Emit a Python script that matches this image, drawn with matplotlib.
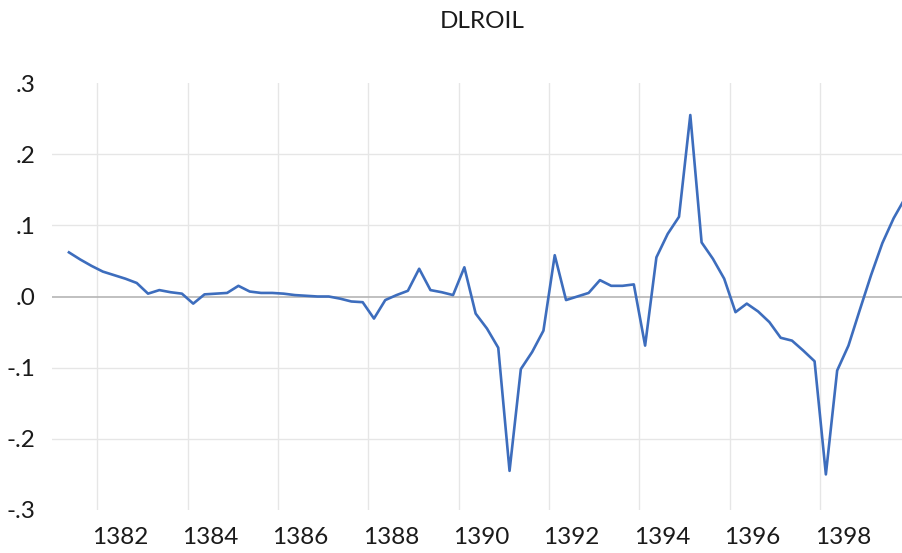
import numpy as np
import matplotlib.pyplot as plt

plt.rcParams['font.family'] = ['Lato', 'DejaVu Sans']

# quarterly series, 1381Q2 .. 1399Q4
start_year, start_q = 1381, 2
dlroil = [
    0.062, 0.052, 0.043, 0.035, 0.030, 0.025, 0.019, 0.004, 0.009, 0.006,
    0.004, -0.010, 0.003, 0.004, 0.005, 0.015, 0.007, 0.005, 0.005, 0.004,
    0.002, 0.001, 0.000, 0.000, -0.003, -0.007, -0.008, -0.031, -0.005, 0.002,
    0.008, 0.039, 0.009, 0.006, 0.002, 0.041, -0.024, -0.045, -0.072, -0.245,
    -0.102, -0.078, -0.048, 0.058, -0.005, 0.000, 0.005, 0.023, 0.015, 0.015,
    0.017, -0.069, 0.055, 0.088, 0.112, 0.255, 0.076, 0.053, 0.025, -0.022,
    -0.010, -0.021, -0.036, -0.058, -0.062, -0.076, -0.091, -0.250, -0.104, -0.069,
    -0.019, 0.030, 0.075, 0.110, 0.138,
]
label_years = list(range(1382, 1399, 2))
y_ticks = [-0.3, -0.2, -0.1, 0.0, 0.1, 0.2, 0.3]
y_labels = ['-.3', '-.2', '-.1', '.0', '.1', '.2', '.3']

# each quarter sits in the middle of its slot
n = len(dlroil)
t = start_year + (start_q - 1 + np.arange(n)) / 4 + 0.125

fig = plt.figure(figsize=(9.02, 5.53), dpi=100)
ax = fig.add_axes([52 / 902, 43 / 553, (910.6 - 52) / 902, 427 / 553])

ax.plot(t, dlroil, color='#3D6DBD', lw=1.9, zorder=3)

ax.set_xlim(1381, 1400)
ax.set_ylim(-0.3, 0.3)

# grid
for yv in [-0.2, -0.1, 0.1, 0.2]:
    ax.axhline(yv, color='#e6e6e6', lw=1.0, zorder=1)
ax.axhline(0, color='#b5b5b5', lw=1.2, zorder=2)
for xv in label_years:
    ax.axvline(xv, color='#e6e6e6', lw=1.0, zorder=1)

ax.set_xticks([y + 0.5 for y in label_years])
ax.set_xticklabels([str(y) for y in label_years])
ax.set_yticks(y_ticks)
ax.set_yticklabels(y_labels)
ax.tick_params(axis='both', length=0, labelsize=17.5, colors='#1a1a1a')
ax.tick_params(axis='x', pad=12)
ax.tick_params(axis='y', pad=12)

for s in ax.spines.values():
    s.set_visible(False)

fig.text(482 / 902, 1 - 22 / 553, 'DLROIL', ha='center', va='center',
         fontsize=17.5, color='#1a1a1a')

fig.savefig('out.png', dpi=100)
